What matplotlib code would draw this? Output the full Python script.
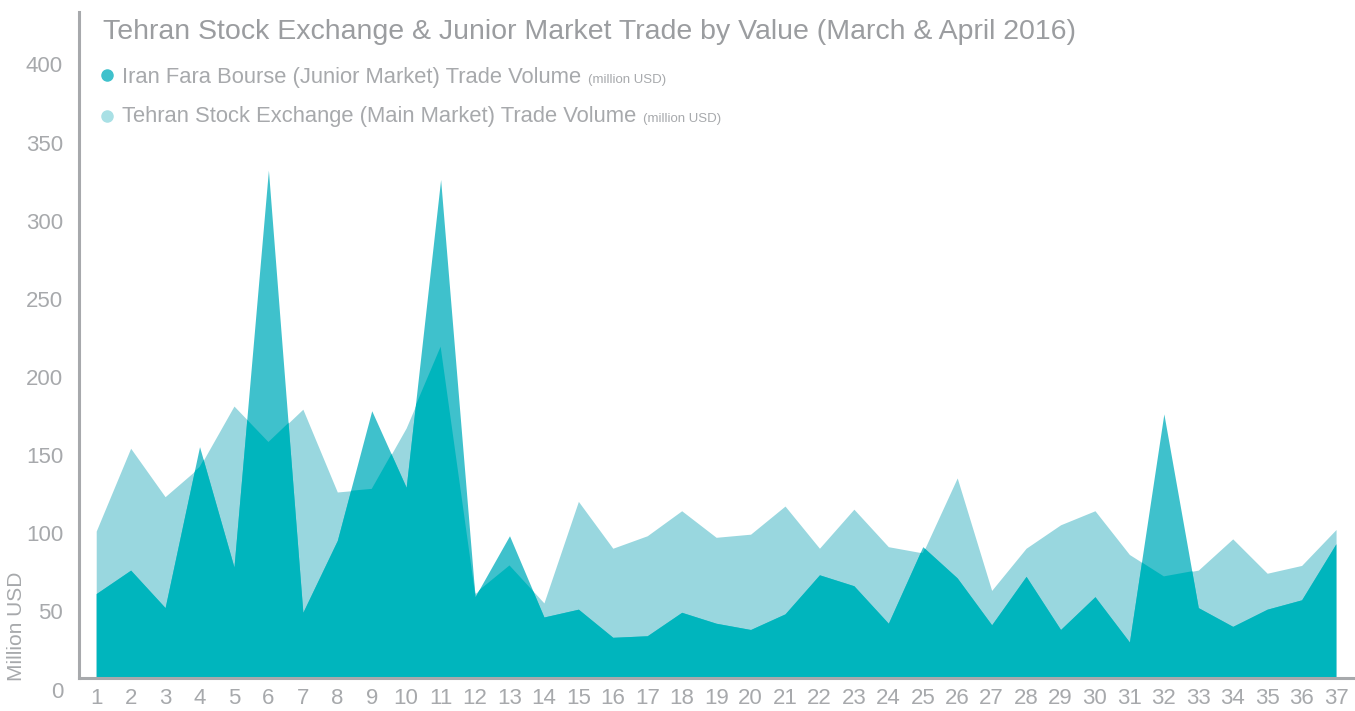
import matplotlib
matplotlib.use("Agg")
import matplotlib.pyplot as plt
import numpy as np

plt.rcParams['font.family'] = ['Liberation Sans', 'DejaVu Sans']

# trading days (March & April 2016)
days = np.arange(1, 38)

# Iran Fara Bourse (Junior Market), million USD
junior = np.array([63, 78, 54, 157, 80, 334, 51, 97, 180, 131, 328, 61, 100, 48, 53, 35, 36,
                   51, 44, 40, 50, 75, 68, 44, 93, 73, 43, 74, 40, 61, 32, 178, 54, 42, 53, 59, 95])
# Tehran Stock Exchange (Main Market), million USD
main = np.array([103, 156, 125, 144, 183, 160, 181, 128, 130, 169, 221, 63, 81, 57, 122, 92, 100,
                 116, 99, 101, 119, 92, 117, 93, 89, 137, 65, 92, 107, 116, 88, 74, 78, 98, 76, 81, 104])

y_ticks = [0, 50, 100, 150, 200, 250, 300, 350, 400]

c_dark = '#00b5bd'
c_mid = '#3fc1cc'
c_light = '#99d7df'
c_text = '#a7a9ac'

# the axis line sits a little above the "0" label
y_lo, y_hi = 8.96, 435.2

fig = plt.figure(figsize=(13.55, 7.11), dpi=100)
ax = fig.add_axes([79/1355, 1 - 678/711, 1 - 79/1355, (678 - 12)/711])

main_fill = ax.fill_between(days, y_lo, main, color=c_light, lw=0)
ax.fill_between(days, y_lo, junior, color=c_mid, lw=0)
# overlap of both series in the dark colour
overlap = ax.fill_between(days, y_lo, junior, color=c_dark, lw=0)
overlap.set_clip_path(main_fill.get_paths()[0], transform=ax.transData)

ax.set_xlim(0.5, 37.55)
ax.set_ylim(y_lo, y_hi)

for s in ['top', 'right']:
    ax.spines[s].set_visible(False)
for s in ['left', 'bottom']:
    ax.spines[s].set_color(c_text)
    ax.spines[s].set_linewidth(2.2)
    ax.spines[s].set_zorder(5)

ax.set_xticks(days)
ax.set_xticklabels([str(d) for d in days])
ax.tick_params(axis='x', length=0, pad=7, labelsize=16, labelcolor=c_text)
ax.set_yticks([])

# y labels sit on the data value, hanging below the axis
for v in y_ticks:
    ax.text(-16/1276, v, str(v), transform=ax.get_yaxis_transform(), ha='right', va='center',
            fontsize=16, color=c_text, clip_on=False)

fig.text(17/1355, 1 - 626/711, 'Million USD', rotation=90, ha='center', va='center',
         fontsize=15, color=c_text)

fig.text(103/1355, 1 - 39/711, 'Tehran Stock Exchange & Junior Market Trade by Value (March & April 2016)',
         ha='left', va='baseline', fontsize=20.5, color='#9b9da0')

leg = [('Iran Fara Bourse (Junior Market) Trade Volume', c_mid, 83, 75),
       ('Tehran Stock Exchange (Main Market) Trade Volume', '#a9e0e5', 122, 116)]
for label, col, base, cy in leg:
    ax.plot([107/1355], [1 - cy/711], 'o', ms=8, color=col, transform=fig.transFigure, clip_on=False)
    t = fig.text(122/1355, 1 - base/711, label, ha='left', va='baseline', fontsize=15.8, color=c_text)
    ax.annotate('(million USD)', xy=(1, 0), xycoords=t, xytext=(5, 1.5), textcoords='offset points',
                ha='left', va='bottom', fontsize=9.5, color=c_text)

fig.savefig('out.png', dpi=100)
